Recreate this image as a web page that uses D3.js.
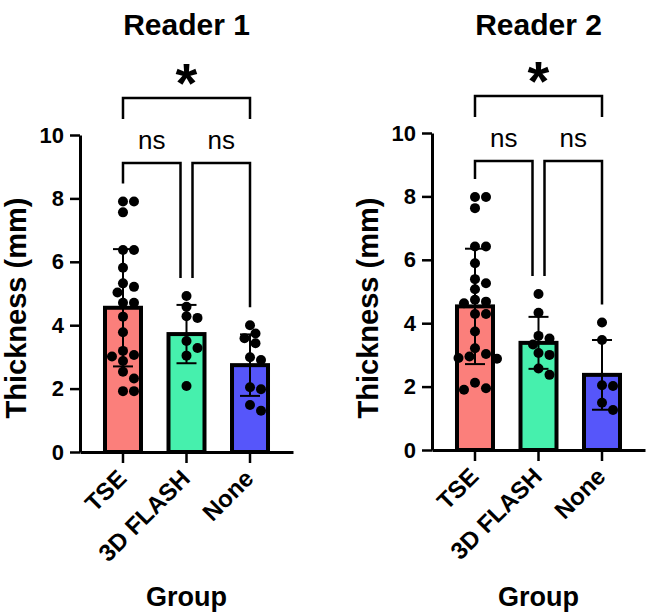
<!DOCTYPE html>
<html>
<head>
<meta charset="utf-8">
<script src="https://cdn.jsdelivr.net/npm/d3@7"></script>
<style>
  body { margin: 0; background: #fff; }
  svg { display: block; font-family: "Liberation Sans", Arial, sans-serif; }
</style>
</head>
<body>
<svg width="649" height="613"></svg>
<script>
// группы и значения
const groups = ["TSE", "3D FLASH", "None"];
const yTicks = [0, 2, 4, 6, 8, 10];

// Reader 1 - точки
const r1Tse = [7.9, 7.9, 7.56, 6.37, 6.37, 5.81, 5.32, 5.21, 5.03, 4.71, 4.71, 4.27, 3.78,
  3.19, 3.06, 3.01, 2.87, 2.53, 2.32, 1.92, 1.92];
const r1Flash = [4.92, 4.58, 4.28, 4.23, 3.5, 3.28, 3.04, 2.08];
const r1None = [4.0, 3.74, 3.59, 3.43, 2.99, 2.9, 2.04, 1.98, 1.48, 1.3];
const r1Mean = [4.55, 3.72, 2.74];
const r1Sd = [1.85, 0.92, 0.97];

// Reader 2 - точки
const r2Tse = [7.98, 7.98, 7.63, 6.42, 6.42, 5.89, 5.39, 5.26, 5.07, 4.74, 4.68, 4.63, 4.29,
  4.29, 3.74, 3.21, 3.03, 2.95, 2.9, 2.88, 2.12, 1.95, 1.9];
const r2Flash = [4.92, 4.33, 3.6, 3.52, 3.33, 3.06, 3.0, 2.57, 2.37];
const r2None = [4.02, 3.47, 2.04, 2.02, 1.49, 1.26];
const r2Mean = [4.53, 3.38, 2.37];
const r2Sd = [1.82, 0.82, 1.1];

// сравнения: [откуда, куда, подпись]
const comparisons = [[0, 1, "ns"], [1, 2, "ns"], [0, 2, "*"]];
const colors = ["#fb7f7b", "#46f0ad", "#5656fa"];

const svg = d3.select("svg");

const panels = [
  { title: "Reader 1", x0: 80, y0: 452, y10: 135, points: [r1Tse, r1Flash, r1None], mean: r1Mean, sd: r1Sd },
  { title: "Reader 2", x0: 432, y0: 450, y10: 133, points: [r2Tse, r2Flash, r2None], mean: r2Mean, sd: r2Sd }
];

// раскладка точек, чтобы не перекрывались (простой beeswarm)
function swarm(values, y, r) {
  const placed = [];
  const sorted = values.map(v => ({ v: v, y: y(v) })).sort((a, b) => a.y - b.y);
  for (const p of sorted) {
    const cands = [0];
    for (let k = 1; k < 12; k++) cands.push(k * 5.5, -k * 5.5);
    let best = 0;
    for (const c of cands) {
      const ok = placed.every(q => Math.hypot(q.x - c, q.y - p.y) >= 2 * r - 0.5);
      if (ok) { best = c; break; }
    }
    p.x = best;
    placed.push(p);
  }
  return placed;
}

function drawPanel(p) {
  const g = svg.append("g");
  const y = d3.scaleLinear().domain([0, 10]).range([p.y0, p.y10]);
  const x = d3.scaleBand()
    .domain(groups)
    .range([p.x0, p.x0 + 213])
    .paddingInner(0.37)
    .paddingOuter(0.362);
  const cx = d => x(d) + x.bandwidth() / 2;
  const center = (cx(groups[0]) + cx(groups[2])) / 2;

  // заголовок
  g.append("text")
    .attr("x", center).attr("y", 35)
    .attr("text-anchor", "middle")
    .style("font-size", "30px").style("font-weight", "bold")
    .text(p.title);

  // столбцы
  g.selectAll(".bar")
    .data(groups)
    .enter()
    .append("rect")
    .attr("x", d => cx(d) - 18)
    .attr("y", (d, i) => y(p.mean[i]))
    .attr("width", 36)
    .attr("height", (d, i) => y(0) - y(p.mean[i]))
    .style("fill", (d, i) => colors[i])
    .style("stroke", "#000")
    .style("stroke-width", 4);

  // точки
  groups.forEach((grp, i) => {
    const pts = swarm(p.points[i], y, 5);
    g.selectAll(".dot" + i)
      .data(pts)
      .enter()
      .append("circle")
      .attr("cx", d => cx(grp) + d.x)
      .attr("cy", d => d.y)
      .attr("r", 5)
      .style("fill", "#000");
  });

  // планки погрешностей (SD)
  groups.forEach((grp, i) => {
    const top = y(p.mean[i] + p.sd[i]);
    const bot = y(p.mean[i] - p.sd[i]);
    const c = cx(grp);
    g.append("line").attr("x1", c).attr("x2", c).attr("y1", top).attr("y2", bot)
      .style("stroke", "#000").style("stroke-width", 2);
    [top, bot].forEach(v => {
      g.append("line").attr("x1", c - 10).attr("x2", c + 10).attr("y1", v).attr("y2", v)
        .style("stroke", "#000").style("stroke-width", 2);
    });
  });

  // оси
  const axY = g.append("g")
    .attr("transform", `translate(${p.x0}, 0)`)
    .call(d3.axisLeft(y).tickValues(yTicks).tickSize(10).tickSizeOuter(0).tickPadding(6));
  const axX = g.append("g")
    .attr("transform", `translate(0, ${y(0)})`)
    .call(d3.axisBottom(x).tickSize(11).tickSizeOuter(0));
  [axY, axX].forEach(a => {
    a.select(".domain").style("stroke-width", 3);
    a.selectAll(".tick line").style("stroke-width", 2.5);
  });
  axY.selectAll("text")
    .style("font-size", "22px").style("font-weight", "bold")
    .style("font-family", "Liberation Sans, Arial, sans-serif");
  axX.selectAll("text")
    .attr("x", 0).attr("y", 0).attr("dy", 0)
    .style("text-anchor", "end")
    .attr("transform", "translate(5, 28) rotate(-45)")
    .style("font-size", "24px").style("font-weight", "bold")
    .style("font-family", "Liberation Sans, Arial, sans-serif");

  // подписи осей
  g.append("text")
    .attr("transform", `translate(${p.x0 - 54}, 308) rotate(-90)`)
    .attr("text-anchor", "middle")
    .style("font-size", "29px").style("font-weight", "bold")
    .text("Thickness (mm)");
  g.append("text")
    .attr("x", center).attr("y", 606)
    .attr("text-anchor", "middle")
    .style("font-size", "27px").style("font-weight", "bold")
    .text("Group");

  // скобки значимости
  comparisons.forEach(([a, b, label]) => {
    const outer = (b - a) === 2;
    let xa = cx(groups[a]), xb = cx(groups[b]);
    let top, ya, yb;
    if (outer) {
      top = y(10) - 37;
      ya = top + 21; yb = top + 21;
    } else {
      if (a === 1) xa += 6;
      if (b === 1) xb -= 6;
      top = y(10) + 28;
      ya = y(d3.max(p.points[a])) - 18;
      yb = y(d3.max(p.points[b])) - 18;
    }
    g.append("path")
      .attr("d", `M${xa},${ya}V${top}H${xb}V${yb}`)
      .style("fill", "none").style("stroke", "#000").style("stroke-width", 2.5);
    g.append("text")
      .attr("x", (xa + xb) / 2)
      .attr("y", outer ? top + 4 : top - 14)
      .attr("text-anchor", "middle")
      .style("font-size", outer ? "56px" : "26px")
      .style("font-weight", outer ? "bold" : "normal")
      .text(label);
  });
}

panels.forEach(drawPanel);
</script>
</body>
</html>
